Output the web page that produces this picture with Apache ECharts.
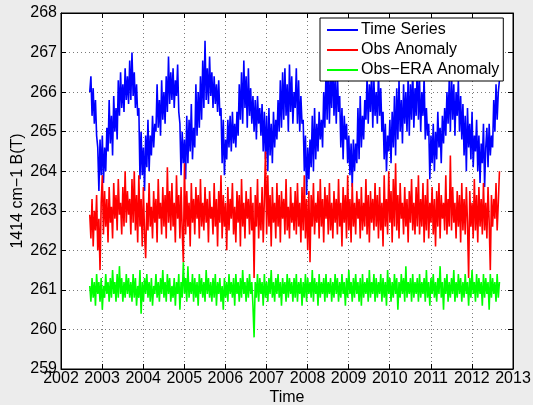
<!DOCTYPE html>
<html>
<head>
<meta charset="utf-8">
<script src="https://cdn.jsdelivr.net/npm/echarts@6/dist/echarts.min.js"></script>
<style>
html,body{margin:0;padding:0;background:#ececec;}
#c{width:533px;height:405px;}
</style>
</head>
<body>
<div id="c"></div>
<script>
// Sampling span of the record (decimal years)
const startYear = 2002.70;
const endYear = 2012.67;
const xTicks = [2002,2003,2004,2005,2006,2007,2008,2009,2010,2011,2012,2013];
const yTicks = [259,260,261,262,263,264,265,266,267,268];
const seriesNames = ['Time Series', 'Obs Anomaly', 'Obs\u2212ERA Anomaly'];

const timeSeries = [
266.0,266.4,265.4,266.1,265.2,265.8,264.9,264.6,263.5,264.8,263.9,264.9,263.7,264.6,264.0,265.1,264.5,265.8,264.7,265.4,264.4,265.9,265.0,265.6,264.8,266.3,265.4,266.5,265.6,266.2,265.5,266.6,265.8,266.4,265.7,266.8,
265.8,267.0,265.9,266.5,265.6,266.2,265.4,265.6,263.8,265.0,263.9,264.6,263.5,264.9,264.1,265.3,264.0,264.9,264.4,265.4,264.6,265.2,265.0,266.2,265.1,265.8,264.9,266.3,265.3,266.0,265.2,266.4,265.5,266.9,265.7,266.5,
265.8,266.6,265.6,266.3,265.9,266.7,265.5,265.2,263.9,265.0,264.2,264.8,263.8,265.4,264.2,265.3,264.5,265.7,264.3,265.1,264.6,266.2,264.9,266.0,265.1,266.4,265.3,266.8,265.6,267.3,265.8,266.6,265.7,266.9,265.9,266.5,
265.6,266.4,265.7,266.2,265.5,266.3,265.4,265.6,264.2,265.3,263.9,264.8,264.3,265.3,264.6,265.4,264.5,265.5,264.7,265.2,264.6,265.5,264.9,266.2,265.3,266.5,265.2,266.8,265.6,266.4,265.1,266.6,265.4,266.1,265.2,265.9,
265.0,265.8,264.8,265.9,265.2,265.6,264.9,265.7,264.5,265.5,264.3,265.4,264.0,265.6,264.4,265.2,264.2,265.5,264.6,265.3,264.8,265.8,265.0,266.3,265.1,266.5,265.3,266.6,265.4,266.2,265.0,266.7,265.5,266.4,265.2,266.0,
265.6,266.6,265.2,266.3,265.0,265.9,265.2,265.3,264.0,264.9,263.4,264.6,263.8,264.8,264.1,265.4,264.0,265.6,264.3,265.2,264.5,265.5,264.8,265.3,264.6,266.0,265.1,266.5,265.3,266.8,265.2,266.4,265.6,266.9,265.4,266.3,
265.2,266.5,265.5,265.9,264.6,265.6,264.3,265.4,264.8,265.2,264.2,264.9,263.9,264.7,263.6,264.8,264.0,264.7,264.2,265.6,264.3,265.9,264.6,265.4,264.8,265.8,265.3,266.4,265.2,266.2,265.5,266.6,265.1,266.3,265.4,266.0,
265.2,266.5,265.4,266.1,265.0,265.5,264.3,265.2,264.0,264.9,264.5,265.3,264.2,265.5,264.6,265.9,264.4,266.1,264.8,266.3,265.0,265.8,264.7,266.2,265.2,266.0,265.0,266.4,264.9,266.2,265.3,266.6,265.1,266.1,265.4,266.8,
265.3,266.3,265.0,266.0,265.4,266.4,264.8,265.6,264.9,265.2,263.8,264.9,264.2,265.2,264.0,265.0,264.3,265.5,264.6,265.1,264.2,265.4,264.7,265.6,264.9,266.0,265.2,266.3,265.0,266.5,265.3,266.2,264.9,266.0,265.4,266.3,
265.0,265.9,264.8,265.7,264.4,265.4,264.0,265.6,264.6,265.2,264.3,265.5,264.1,264.9,264.5,265.3,264.0,264.9,263.7,264.7,264.2,265.2,263.6,264.6,265.1,264.1,265.2,264.4,264.9,264.6,265.8,265.0,266.2,265.3,266.0,266.3
];

const obsAnomaly = [
262.9,262.3,263.3,262.1,263.0,262.5,263.4,262.0,262.8,261.5,263.2,263.9,262.4,263.5,262.6,263.3,262.2,263.6,262.7,263.1,262.3,263.7,262.8,263.4,262.5,263.8,262.9,263.2,262.4,263.6,262.6,264.0,262.7,263.5,262.9,263.3,
262.4,263.8,262.7,264.0,262.5,263.4,262.2,263.9,262.6,263.3,262.1,263.6,262.4,261.8,263.2,262.5,263.7,262.6,263.1,262.3,263.5,262.7,263.3,262.2,263.8,262.8,263.2,262.4,263.6,262.6,263.4,262.3,264.1,262.7,263.5,262.5,
263.7,262.6,263.2,262.2,263.9,262.8,263.4,262.3,263.6,262.5,261.7,264.2,262.4,263.5,262.6,263.2,262.1,263.7,262.7,263.3,262.4,263.6,262.8,263.4,262.3,263.8,262.6,263.2,262.5,263.6,262.7,263.3,262.2,263.5,262.8,263.1,
262.4,263.7,262.6,263.3,262.1,263.5,262.7,263.9,262.3,263.4,262.6,263.2,262.0,263.6,262.5,263.3,262.8,263.7,262.4,263.1,262.2,263.5,262.7,263.4,262.1,263.8,262.6,263.2,262.3,263.5,262.8,263.3,262.4,263.6,262.5,263.2,
261.3,263.4,262.6,263.8,262.3,263.2,262.5,263.6,262.2,263.3,264.5,262.4,263.9,262.6,263.4,262.1,263.6,262.7,263.2,262.3,263.7,262.6,263.4,262.2,263.5,262.8,263.3,262.4,263.8,262.5,263.1,262.3,263.6,262.7,263.2,262.5,
263.5,262.4,263.7,262.6,263.2,262.2,263.6,262.5,263.9,262.3,263.3,262.0,263.5,261.7,263.4,262.6,263.7,262.4,263.2,262.7,263.5,262.3,263.8,262.6,263.3,262.2,263.6,262.8,263.4,262.4,263.7,262.5,263.2,262.3,263.5,262.7,
263.3,262.4,263.8,262.6,263.2,262.1,263.6,262.7,263.4,262.3,263.9,262.5,263.3,262.2,263.7,262.6,263.2,262.4,263.5,262.8,263.3,262.3,263.6,262.5,263.2,262.6,263.8,262.4,263.4,262.2,263.5,262.7,263.3,262.5,263.7,262.6,
263.4,262.3,263.6,262.5,263.2,262.1,263.9,262.6,263.3,262.4,264.0,262.7,263.5,262.2,263.8,262.6,264.2,262.5,263.4,262.3,263.7,262.8,263.2,262.4,263.6,262.6,263.3,262.2,263.5,262.7,263.8,262.5,263.2,262.4,263.6,262.6,
263.9,262.4,263.3,262.6,263.7,262.2,263.4,262.5,263.8,262.3,263.2,262.7,263.6,262.4,263.3,262.1,263.5,262.6,263.7,262.3,263.4,262.8,263.2,262.5,263.9,262.4,263.3,262.6,264.4,262.5,263.6,262.7,263.2,262.3,263.5,262.6,
263.4,262.2,263.7,262.5,263.3,262.4,263.6,262.7,261.3,263.5,262.6,263.2,262.3,263.8,262.5,263.4,262.2,263.6,262.6,263.3,262.4,263.7,262.5,263.2,262.3,263.6,262.7,261.5,263.4,262.6,263.3,262.8,263.7,262.5,263.2,264.0
];

const obsEraAnomaly = [
261.1,260.7,261.3,260.8,261.2,260.6,261.4,260.9,261.2,260.7,261.3,260.5,261.1,260.8,261.4,260.9,261.2,260.7,261.3,260.8,261.5,260.9,261.2,260.7,261.4,260.8,261.6,260.9,261.3,260.7,261.2,260.8,261.4,260.9,261.3,260.8,
261.2,260.7,261.4,260.8,261.3,260.6,261.1,260.8,261.5,260.4,261.2,260.7,261.3,260.9,261.4,260.8,261.2,260.7,261.3,260.6,261.1,260.9,261.4,260.8,261.2,260.7,261.3,260.9,261.5,260.8,261.2,260.7,261.4,260.9,261.3,260.7,
261.1,260.8,261.3,260.6,261.2,260.9,261.4,260.5,261.2,260.8,261.7,260.9,261.3,260.7,261.6,260.8,261.2,260.9,261.4,260.7,261.3,260.8,261.2,260.6,261.4,260.9,261.3,260.8,261.2,260.7,261.5,260.9,261.3,260.8,261.2,260.7,
261.3,260.8,261.4,260.6,261.2,260.9,261.3,260.7,261.1,260.5,261.3,260.8,261.2,260.7,261.4,260.9,261.2,260.8,261.3,260.6,261.4,260.9,261.2,260.7,261.3,260.8,261.5,260.9,261.2,260.7,261.3,260.8,261.4,260.9,261.2,260.6,
259.8,261.2,260.8,261.4,260.7,261.3,260.9,261.2,260.6,261.4,260.8,261.2,260.7,261.3,260.9,261.5,260.8,261.2,260.7,261.3,260.9,261.4,260.8,261.2,260.6,261.3,260.9,261.2,260.7,261.4,260.8,261.3,260.9,261.2,260.7,261.3,
260.8,261.4,260.7,261.2,260.9,261.3,260.6,261.2,260.8,261.4,260.7,261.3,260.9,261.2,260.8,261.5,260.7,261.3,260.9,261.2,260.6,261.4,260.8,261.2,260.9,261.3,260.7,261.4,260.8,261.2,260.9,261.3,260.7,261.2,260.8,261.4,
260.9,261.3,260.7,261.2,260.8,261.4,260.9,261.2,260.6,261.3,260.8,261.5,260.9,261.2,260.7,261.3,260.8,261.4,260.9,261.2,260.7,261.3,260.6,261.4,260.8,261.2,260.9,261.3,260.7,261.5,260.8,261.2,260.9,261.4,260.7,261.3,
260.8,261.2,260.9,261.4,260.7,261.3,260.8,261.2,260.6,261.5,260.9,261.3,260.7,261.2,260.8,261.4,260.9,261.3,260.5,261.2,260.8,261.4,260.9,261.3,260.7,261.6,260.8,261.2,260.9,261.3,260.7,261.4,260.8,261.2,260.9,261.3,
260.7,261.4,260.8,261.2,260.9,261.3,260.7,261.5,260.8,261.2,260.6,261.3,260.9,261.4,260.8,261.2,260.7,261.3,260.9,261.6,260.8,261.2,260.5,261.3,260.9,261.4,260.7,261.2,260.8,261.3,260.9,261.5,260.7,261.2,260.8,261.4,
260.9,261.3,260.7,261.2,260.8,261.4,260.9,261.2,260.6,261.3,260.8,261.5,260.9,261.2,260.7,261.4,260.8,261.3,260.9,261.2,260.6,261.4,260.8,261.3,260.9,261.2,260.5,261.4,260.8,261.3,260.9,261.2,260.7,261.4,260.8,261.2
];

function toPairs(vals){
  const n = vals.length;
  const step = (endYear - startYear) / (n - 1);
  return vals.map((v, i) => [startYear + i * step, v]);
}

const FONT = '"Liberation Sans", Arial, Helvetica, sans-serif';
const chart = echarts.init(document.getElementById('c'), null, {renderer: 'canvas'});

const gridLine = {show: true, lineStyle: {color: '#7a7a7a', type: [1, 3], width: 1}};
const xMin = xTicks[0], xMax = xTicks[xTicks.length - 1];
const yMin = yTicks[0], yMax = yTicks[yTicks.length - 1];
const LW = 1.6;

const option = {
  backgroundColor: '#ececec',
  animation: false,
  textStyle: {fontFamily: FONT},
  grid: {left: 61, right: 20, top: 13, bottom: 36, show: true, backgroundColor: '#ffffff', borderColor: '#000', borderWidth: 1,
         containLabel: false, outerBoundsMode: 'none'},
  legend: {
    data: seriesNames,
    orient: 'vertical',
    left: 320, top: 18,
    padding: [4, 4, 3, 7],
    itemGap: 4,
    itemWidth: 31,
    itemHeight: 2,
    icon: 'rect',
    backgroundColor: '#ffffff',
    borderColor: '#000',
    borderWidth: 1,
    borderRadius: 0,
    textStyle: {fontFamily: FONT, fontSize: 16, color: '#000', lineHeight: 16, padding: [0, 0, 0, -2]},
    z: 10
  },
  xAxis: [{
    type: 'value', min: xMin, max: xMax, interval: 1,
    name: 'Time', nameLocation: 'middle', nameGap: 21, nameMoveOverlap: false,
    nameTextStyle: {fontFamily: FONT, fontSize: 16, color: '#000'},
    axisLine: {show: true, onZero: false, lineStyle: {color: '#000', width: 1}},
    axisTick: {show: true, inside: true, length: 5, lineStyle: {color: '#000'}},
    axisLabel: {show: true, margin: 2, fontFamily: FONT, fontSize: 16, color: '#000', formatter: v => String(v)},
    splitLine: gridLine
  }, {
    type: 'value', position: 'top', min: xMin, max: xMax, interval: 1,
    axisLine: {show: true, onZero: false, lineStyle: {color: '#000', width: 1}},
    axisTick: {show: true, inside: true, length: 5, lineStyle: {color: '#000'}},
    axisLabel: {show: false}, splitLine: {show: false}
  }],
  yAxis: [{
    type: 'value', min: yMin, max: yMax, interval: 1,
    name: '1414 cm\u22121 B(T)', nameLocation: 'middle', nameGap: 35, nameMoveOverlap: false,
    nameTextStyle: {fontFamily: FONT, fontSize: 16, color: '#000'},
    axisLine: {show: true, onZero: false, lineStyle: {color: '#000', width: 1}},
    axisTick: {show: true, inside: true, length: 5, lineStyle: {color: '#000'}},
    axisLabel: {show: true, margin: 4, fontFamily: FONT, fontSize: 16, color: '#000'},
    splitLine: gridLine
  }, {
    type: 'value', position: 'right', min: yMin, max: yMax, interval: 1,
    axisLine: {show: true, onZero: false, lineStyle: {color: '#000', width: 1}},
    axisTick: {show: true, inside: true, length: 5, lineStyle: {color: '#000'}},
    axisLabel: {show: false}, splitLine: {show: false}
  }],
  series: [
    {name: seriesNames[0], type: 'line', data: toPairs(timeSeries), symbol: 'none', showSymbol: false,
     lineStyle: {color: '#0000ff', width: LW}, itemStyle: {color: '#0000ff'}, z: 2},
    {name: seriesNames[1], type: 'line', data: toPairs(obsAnomaly), symbol: 'none', showSymbol: false,
     lineStyle: {color: '#ff0000', width: LW}, itemStyle: {color: '#ff0000'}, z: 2},
    {name: seriesNames[2], type: 'line', data: toPairs(obsEraAnomaly), symbol: 'none', showSymbol: false,
     lineStyle: {color: '#00ff00', width: LW}, itemStyle: {color: '#00ff00'}, z: 2}
  ]
};
chart.setOption(option);
</script>
</body>
</html>
